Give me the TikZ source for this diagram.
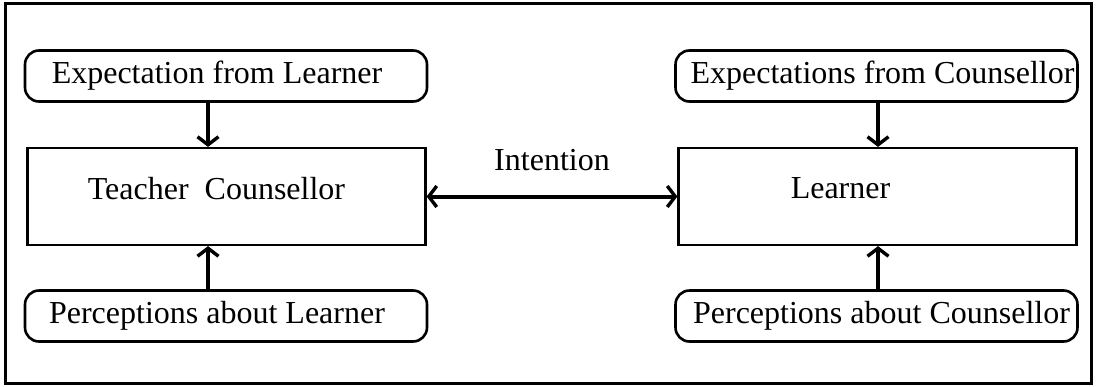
\documentclass[tikz,border=0pt]{standalone}
\usepackage{fontspec}
\setmainfont{Liberation Serif}
\usetikzlibrary{arrows.meta}
\begin{document}
\begin{tikzpicture}[x=1pt,y=-1pt,
  every node/.style={font=\fontsize{32}{36}\selectfont},
  every label/.style={font=\fontsize{32}{36}\selectfont, inner sep=0pt},
  rbox/.style={draw, line width=2.6pt, rounded corners=14pt, minimum width=402pt,
               minimum height=51pt, inner sep=0pt},
  mainbox/.style={draw, line width=2.2pt, minimum width=398pt, minimum height=97pt, inner sep=0pt},
  tip/.tip={Straight Barb[length=8pt,width=21pt,line width=3.4pt]},
  link/.style={line width=4pt, -tip},
  both/.style={line width=4pt, tip-tip}
]
% canvas and outer frame
\path[fill=white] (0,0) rectangle (1097,386);
\draw[line width=3pt] (5,3) rectangle (1091,383);

% left column
\node[rbox, label={[xshift=-9pt]center:Expectation from Learner}] (expL) at (226,76) {};
\node[mainbox, label={[xshift=-10pt,yshift=8pt]center:Teacher\ \ Counsellor}] (teacher) at (226.5,196.5) {};
\node[rbox, label={[xshift=-9pt]center:Perceptions about Learner}] (perL) at (226,316) {};

% right column
\node[rbox, label={[xshift=6pt]center:Expectations from Counsellor}] (expC) at (876.5,76) {};
\node[mainbox, label={[xshift=-37pt,yshift=8pt]center:Learner}] (learner) at (877.5,196.5) {};
\node[rbox, label={[xshift=5pt]center:Perceptions about Counsellor}] (perC) at (876.5,316) {};

% connectors
\draw[link] (expL.south -| 208,0) -- (teacher.north -| 208,0);
\draw[link] (perL.north -| 208,0) -- (teacher.south -| 208,0);
\draw[link] (expC.south -| 878,0) -- (learner.north -| 878,0);
\draw[link] (perC.north -| 878,0) -- (learner.south -| 878,0);
\draw[both] (teacher.east) -- node[above=20pt] {Intention} (learner.west);
\end{tikzpicture}
\end{document}
